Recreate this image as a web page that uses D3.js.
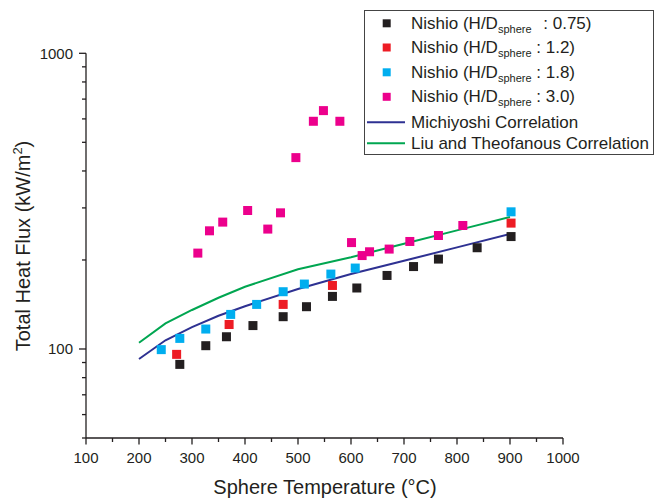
<!DOCTYPE html>
<html>
<head>
<meta charset="utf-8">
<script src="https://cdn.jsdelivr.net/npm/d3@7"></script>
<style>
  body { margin: 0; background: #fff; }
  svg { display: block; font-family: "Liberation Sans", Arial, Helvetica, sans-serif; }
</style>
</head>
<body>
<svg id="chart" width="663" height="499"></svg>
<script>
// ---- data ----
const xTicks = [100, 200, 300, 400, 500, 600, 700, 800, 900, 1000];
const yTicks = [100, 1000];

const tempH075 = [277, 326, 365, 415, 472, 516, 565, 611, 668, 718, 765, 838, 902];
const fluxH075 = [88.7, 102.6, 110, 120, 128.6, 139, 150.6, 160.8, 177.3, 190, 201.4, 220, 240];

const tempH12 = [271, 370, 472, 565, 902];
const fluxH12 = [95.9, 121, 141.5, 164, 266.5];

const tempH18 = [242, 277, 326, 373, 422, 472, 512, 562, 608, 902];
const fluxH18 = [99.5, 108.6, 116.8, 130.9, 141.5, 156.2, 165.8, 179.2, 187.8, 291];

const tempH30 = [311, 333, 358, 405, 443, 467, 496, 529, 548, 579, 601, 621, 635, 672, 711, 765, 811];
const fluxH30 = [211, 251, 268.6, 294, 254.4, 288.7, 443.8, 589, 640, 589, 229, 207, 213.2, 217.7, 231, 242, 261.6];

const tempCorr = [200, 250, 300, 350, 400, 500, 600, 700, 800, 900];
const fluxMichiyoshi = [92.5, 107, 118.5, 129.5, 139.5, 159.5, 179.3, 198.8, 220.6, 245];
const fluxLiu = [105, 122, 135.5, 149, 162.4, 186, 204.3, 226.9, 251.8, 279.7];

const seriesLabels = ["0.75", "1.2", "1.8", "3.0"];
const lineLabels = ["Michiyoshi Correlation", "Liu and Theofanous Correlation"];

// ---- setup ----
const svg = d3.select("#chart");
const textColor = "#231f20";
const colors = { black: "#231f20", red: "#ed1c24", blue: "#00aeef", magenta: "#ec008c", navy: "#2e3192", green: "#00a651" };

const x = d3.scaleLinear().domain([100, 1000]).range([86, 563]);
const y = d3.scaleLog().domain([50, 1000]).range([438, 53.3]);

// minor ticks
const xMinor = d3.range(150, 1000, 100);
const yMinor = [];
[10, 100].forEach(b => { for (let k = 1; k <= 9; k++) { const v = b * k; if (v >= 50 && v <= 1000 && v !== 100 && v !== 1000) yMinor.push(v); } });

// axes
const axisG = svg.append("g").attr("stroke", textColor).attr("stroke-width", 1.3);
axisG.append("line").attr("x1", x(100)).attr("x2", x(1000)).attr("y1", y(50)).attr("y2", y(50));
axisG.append("line").attr("x1", x(100)).attr("x2", x(100)).attr("y1", y(50)).attr("y2", y(1000));

xTicks.forEach(v => axisG.append("line").attr("x1", x(v)).attr("x2", x(v)).attr("y1", y(50)).attr("y2", y(50) + 6.5));
xMinor.forEach(v => axisG.append("line").attr("x1", x(v)).attr("x2", x(v)).attr("y1", y(50)).attr("y2", y(50) + 4));
yTicks.forEach(v => axisG.append("line").attr("x1", x(100)).attr("x2", x(100) - 7).attr("y1", y(v)).attr("y2", y(v)));
yMinor.forEach(v => axisG.append("line").attr("x1", x(100)).attr("x2", x(100) - 4).attr("y1", y(v)).attr("y2", y(v)));

svg.append("g").selectAll("text").data(xTicks).join("text")
  .attr("x", d => x(d)).attr("y", 463).attr("text-anchor", "middle")
  .attr("font-size", 15).attr("fill", textColor).text(d => d);
svg.append("g").selectAll("text").data(yTicks).join("text")
  .attr("x", 73).attr("y", d => y(d) + 5.5).attr("text-anchor", "end")
  .attr("font-size", 15).attr("fill", textColor).text(d => d);

// axis titles
svg.append("text").attr("x", 325).attr("y", 494).attr("text-anchor", "middle")
  .attr("font-size", 20).attr("fill", textColor).text("Sphere Temperature (°C)");
const yt = svg.append("text").attr("transform", "translate(30,246) rotate(-90)")
  .attr("text-anchor", "middle").attr("font-size", 20).attr("fill", textColor);
yt.append("tspan").text("Total Heat Flux (kW/m");
yt.append("tspan").attr("font-size", 13).attr("dy", -8).text("2");
yt.append("tspan").attr("dy", 8).text(")");

// correlation lines
const line = d3.line().x(d => x(d[0])).y(d => y(d[1]));
svg.append("path").datum(d3.zip(tempCorr, fluxLiu)).attr("d", line)
  .attr("fill", "none").attr("stroke", colors.green).attr("stroke-width", 2);
svg.append("path").datum(d3.zip(tempCorr, fluxMichiyoshi)).attr("d", line)
  .attr("fill", "none").attr("stroke", colors.navy).attr("stroke-width", 2);

// markers
const ms = 9;
function drawSquares(temps, fluxes, color) {
  svg.append("g").selectAll("rect").data(d3.zip(temps, fluxes)).join("rect")
    .attr("x", d => x(d[0]) - ms / 2).attr("y", d => y(d[1]) - ms / 2)
    .attr("width", ms).attr("height", ms).attr("fill", color);
}
drawSquares(tempH075, fluxH075, colors.black);
drawSquares(tempH12, fluxH12, colors.red);
drawSquares(tempH18, fluxH18, colors.blue);
drawSquares(tempH30, fluxH30, colors.magenta);

// legend
const lg = svg.append("g");
lg.append("rect").attr("x", 364.5).attr("y", 10.5).attr("width", 289).attr("height", 144)
  .attr("fill", "#fff").attr("stroke", "#444").attr("stroke-width", 1);
const markColors = [colors.black, colors.red, colors.blue, colors.magenta];
const markY = [23.3, 47.5, 72.3, 96.8];
const baseY = [28.5, 53, 77.6, 102.3];
seriesLabels.forEach((lab, i) => {
  lg.append("rect").attr("x", 386.7 - 4).attr("y", markY[i] - 4).attr("width", 8).attr("height", 8).attr("fill", markColors[i]);
  const t = lg.append("text").attr("x", 411).attr("y", baseY[i]).attr("font-size", 17).attr("fill", textColor);
  t.append("tspan").text("Nishio (H/D");
  t.append("tspan").attr("font-size", 11).attr("dy", 4).text("sphere");
  t.append("tspan").attr("dy", -4).attr("dx", i === 0 ? 7 : 0).text(" : " + lab + ")");
});
const lineColors = [colors.navy, colors.green];
const lineY = [122.3, 143.3];
const lineBase = [127.6, 149];
lineLabels.forEach((lab, i) => {
  lg.append("line").attr("x1", 367).attr("x2", 405).attr("y1", lineY[i]).attr("y2", lineY[i])
    .attr("stroke", lineColors[i]).attr("stroke-width", 2);
  lg.append("text").attr("x", 411).attr("y", lineBase[i]).attr("font-size", 17).attr("fill", textColor).text(lab);
});
</script>
</body>
</html>
